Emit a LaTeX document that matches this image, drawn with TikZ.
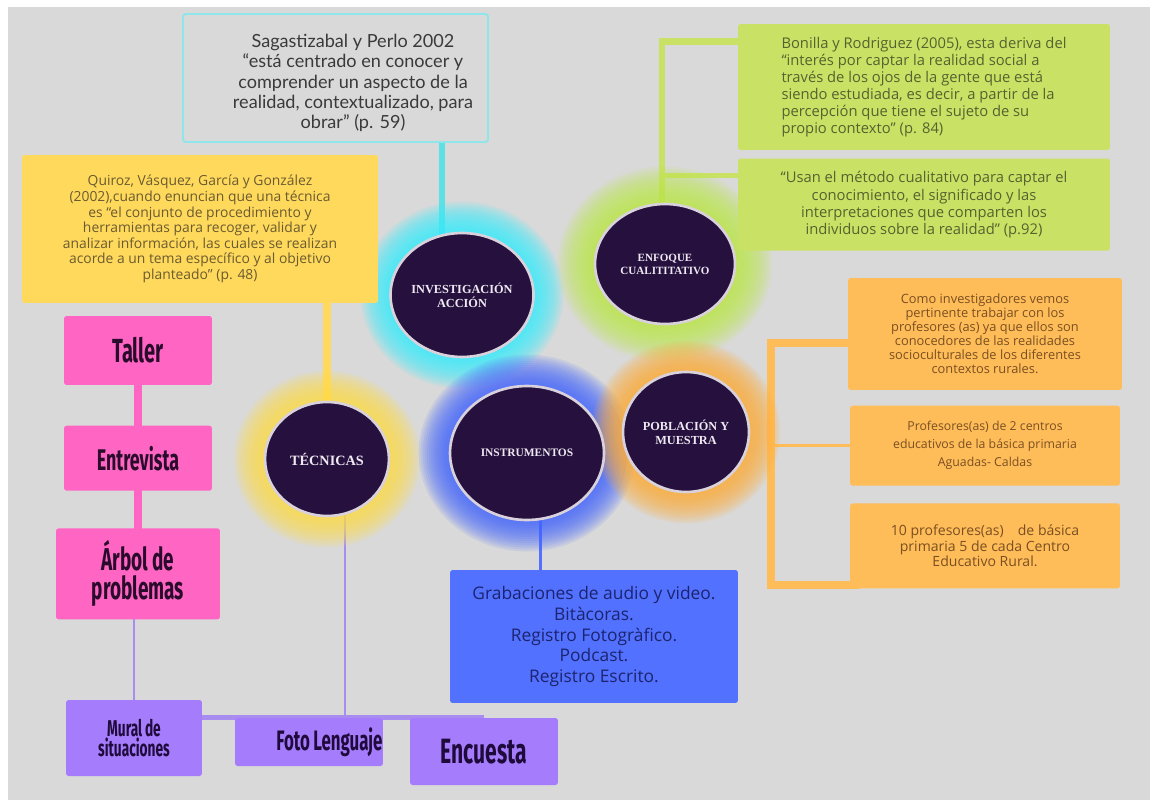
\documentclass[tikz,border=0pt]{standalone}
\usepackage{fontspec}
\setmainfont{Open Sans}
\newfontfamily\citafont{Lato}
\newfontfamily\anchafont[FakeStretch=0.6, WordSpace=0.85]{Fira Sans}
\newfontfamily\circfont{Liberation Serif}
\usepackage{tikz}
\usetikzlibrary{positioning}
\usetikzlibrary{shapes.geometric,calc}
\definecolor{fondo}{HTML}{D9D9D9}
\definecolor{cianborde}{HTML}{8EE6EA}
\definecolor{cian}{HTML}{5CE1E6}
\definecolor{brillocian}{HTML}{38EFFF}
\definecolor{amarillo}{HTML}{FFD95C}
\definecolor{brilloamarillo}{HTML}{FFE04A}
\definecolor{verde}{HTML}{C9E265}
\definecolor{brilloverde}{HTML}{BDEB4A}
\definecolor{naranja}{HTML}{FFBD59}
\definecolor{brillonaranja}{HTML}{FFAE3A}
\definecolor{azul}{HTML}{5271FF}
\definecolor{brilloazul}{HTML}{4466FF}
\definecolor{rosa}{HTML}{FF66C4}
\definecolor{lila}{HTML}{A57CFB}
\definecolor{lilalinea}{HTML}{A98CF0}
\definecolor{morado}{HTML}{26103D}
\definecolor{aro}{HTML}{D9D2DC}
\definecolor{letra}{HTML}{EEE8F2}
\definecolor{textogris}{HTML}{3A3A3A}
\definecolor{textoamarillo}{HTML}{6B5B30}
\definecolor{textoverde}{HTML}{56622F}
\definecolor{textonaranja}{HTML}{7A4F22}
\definecolor{textoazul}{HTML}{1C2470}
\definecolor{textorosa}{HTML}{2A0B2B}
\definecolor{textolila}{HTML}{1F0A3C}

\pgfdeclarelayer{fondo}
\pgfdeclarelayer{enlace}
\pgfdeclarelayer{brillo}
\pgfsetlayers{fondo,enlace,brillo,main}

\tikzstyle{caja} = [rounded corners=1.5pt, inner sep=0pt, align=center]
\tikzstyle{cita} = [caja, draw=cianborde, line width=1.1pt, minimum width=6.1cm, minimum height=2.56cm]
\tikzstyle{citatexto} = [align=center, text=textogris, font=\citafont\fontsize{10.3}{11.6}\selectfont]
\tikzstyle{amarilla} = [caja, fill=amarillo, text=textoamarillo, font=\fontsize{7.9}{8.9}\selectfont]
\tikzstyle{verdecaja} = [caja, fill=verde, text=textoverde, minimum width=7.44cm, font=\fontsize{8.4}{9.7}\selectfont]
\tikzstyle{naranjacaja} = [caja, fill=naranja, text=textonaranja, minimum width=5.4cm]
\tikzstyle{azulcaja} = [caja, fill=azul, text=textoazul, font=\fontsize{9.9}{11.8}\selectfont]
\tikzstyle{rosacaja} = [caja, fill=rosa, text=textorosa]
\tikzstyle{lilacaja} = [caja, fill=lila, text=textolila]
\tikzstyle{esfera} = [ellipse, draw=aro, line width=1.5pt, fill=morado, text=letra, inner sep=0pt, align=center]
\tikzstyle{line} = [draw, line cap=butt]

\begin{document}
\begin{tikzpicture}[x=0.02cm, y=-0.02cm]
\useasboundingbox (0,0) rectangle (1155,804);
\begin{pgfonlayer}{fondo}
	\fill[white] (0,0) rectangle (1155,804);
	\fill[fondo] (8,7) rectangle (1150,800);
\end{pgfonlayer}

	% citas de arriba
	\node[cita] (cita) at (335.5,78) {};
	\node[citatexto] (citatexto) at (353,83) {Sagastizabal y Perlo 2002\\“está centrado en conocer y\\comprender un aspecto de la\\realidad, contextualizado, para\\obrar” (p. 59)};
	\node[amarilla, minimum width=7.12cm, minimum height=2.96cm] (quiroz) at (200,229) {Quiroz, Vásquez, García y González\\(2002),cuando enuncian que una técnica\\es “el conjunto de procedimiento y\\herramientas para recoger, validar y\\analizar información, las cuales se realizan\\acorde a un tema específico y al objetivo\\planteado” (p. 48)};
	\node[verdecaja, minimum height=2.52cm, align=left] (verde1) at (924,87) {Bonilla y Rodriguez (2005), esta deriva del\\“interés por captar la realidad social a\\través de los ojos de la gente que está\\siendo estudiada, es decir, a partir de la\\percepción que tiene el sujeto de su\\propio contexto” (p. 84)};
	\node[verdecaja, minimum height=1.84cm] (verde2) [below=0.16cm of verde1] {“Usan el método cualitativo para captar el\\conocimiento, el significado y las\\interpretaciones que comparten los\\individuos sobre la realidad” (p.92)};

	% circulos
	\node[esfera, minimum width=2.8cm, minimum height=2.48cm, font=\circfont\bfseries\fontsize{7}{8}\selectfont] (inv) at (462,295) {INVESTIGACIÓN\\ACCIÓN};
	\node[esfera, minimum width=2.8cm, minimum height=2.4cm, font=\circfont\bfseries\fontsize{6.3}{7.4}\selectfont] (enf) at (665,264) {ENFOQUE\\CUALITITATIVO};
	\node[esfera, minimum width=2.48cm, minimum height=2.28cm, font=\circfont\bfseries\fontsize{8.1}{9}\selectfont] (tec) at (327,459) {TÉCNICAS};
	\node[esfera, minimum width=3.08cm, minimum height=2.68cm, font=\circfont\bfseries\fontsize{6.5}{8}\selectfont] (ins) at (527,453) {INSTRUMENTOS};
	\node[esfera, minimum width=2.52cm, minimum height=2.4cm, font=\circfont\bfseries\fontsize{7}{8}\selectfont] (pob) at (686,432) {POBLACIÓN Y\\MUESTRA};

	% poblacion
	\node[naranjacaja, minimum width=5.48cm, minimum height=2.24cm, font=\fontsize{7.3}{8}\selectfont] (nar1) at (985,334) {Como investigadores vemos\\pertinente trabajar con los\\profesores (as) ya que ellos son\\conocedores de las realidades\\socioculturales de los diferentes\\contextos rurales.};
	\node[naranjacaja, minimum height=1.6cm, font=\fontsize{7}{10.2}\selectfont] (nar2) [below=0.3cm of nar1] {Profesores(as) de 2 centros\\educativos de la básica primaria\\Aguadas- Caldas};
	\node[naranjacaja, minimum height=1.7cm, font=\fontsize{8}{8.8}\selectfont] (nar3) [below=0.34cm of nar2] {10 profesores(as)\quad de básica\\primaria 5 de cada Centro\\Educativo Rural.};

	% instrumentos
	\node[azulcaja, minimum width=5.76cm, minimum height=2.66cm] (lista) at (594,636.5) {Grabaciones de audio y video.\\Bitàcoras.\\Registro Fotogràfico.\\Podcast.\\Registro Escrito.};

	% tecnicas
	\node[rosacaja, minimum width=2.96cm, minimum height=1.38cm, font=\anchafont\bfseries\fontsize{19}{20}\selectfont] (taller) at (138,350.5) {Taller};
	\node[rosacaja, minimum width=2.96cm, minimum height=1.3cm, font=\anchafont\bfseries\fontsize{17}{18}\selectfont] (entrevista) [below=0.8cm of taller] {Entrevista};
	\node[rosacaja, minimum width=3.28cm, minimum height=1.82cm, font=\anchafont\bfseries\fontsize{18}{16.5}\selectfont] (arbol) [below=0.74cm of entrevista] {Árbol de\\problemas};
	\node[lilacaja, minimum width=2.72cm, minimum height=1.52cm, font=\anchafont\bfseries\fontsize{13}{11.5}\selectfont] (mural) at (134,738) {Mural de\\situaciones};
	\node[lilacaja, minimum width=2.96cm, minimum height=0.96cm, text width=2.94cm, align=flush right, font=\anchafont\bfseries\fontsize{16}{17}\selectfont] (foto) at (309,742) {Foto Lenguaje};
	\node[lilacaja, minimum width=2.96cm, minimum height=1.34cm, font=\anchafont\bfseries\fontsize{20}{21}\selectfont] (encuesta) at (484,751.5) {Encuesta};

\begin{pgfonlayer}{brillo}
	\foreach \c/\rx/\ry/\g/\col in {inv/70/62/2.1/brillocian, enf/70/60/2.5/brilloverde, tec/62/57/2.1/brilloamarillo, ins/77/67/2.1/brilloazul, pob/63/60/2.1/brillonaranja}
		\foreach \k in {1,...,15}
			\fill[\col, opacity=0.11] (\c.center) ellipse [x radius=\rx+\g*\k, y radius=\ry+\g*\k];
\end{pgfonlayer}

\begin{pgfonlayer}{enlace}
	\coordinate (cianpie) at ([xshift=-0.4cm]inv.center);
	\path [line, cian, line width=3.4pt] (cianpie |- cita.south) -- (cianpie);
	\path [line, amarillo, line width=4pt] (tec.center |- quiroz.south) -- (tec.center);
	\coordinate (azulpie) at ([xshift=0.26cm]ins.center);
	\path [line, azul, line width=1.7pt] (azulpie) -- (azulpie |- lista.north);
	\coordinate (lilapie) at ([xshift=0.36cm]tec.center);
	\path [line, lilalinea, line width=1.7pt] (lilapie) -- (lilapie |- foto.north);
	\path [line, rosa, line width=4pt] (taller.center) -- (taller.center |- arbol.center);
	\path [line, lilalinea, line width=1.7pt] (mural.center |- arbol.center) -- (mural.center);
	\path [line, lilalinea, line width=2.6pt] (mural.center |- foto.north) -- (encuesta.center |- foto.north);
	% llaves verde y naranja
	\path [line, verde, line width=3.8pt] ($(verde1.north west)+(10,18)$) -| ([xshift=-0.06cm]enf.center);
	\path [line, verde, line width=3pt] ($(verde2.north west)+(10,17)$) -| ([xshift=-0.06cm]enf.center);
	\coordinate (eje) at ($(nar3.south west)+(-79,-4)$);
	\path [line, naranja, line width=4.5pt] ($(nar1.west)+(10,9)$) -| (eje) -- ($(nar3.south west)+(10,-4)$);
	\path [line, naranja, line width=2pt] (nar2.center) -- (nar2.center -| eje);
\end{pgfonlayer}
\end{tikzpicture}
\end{document}
